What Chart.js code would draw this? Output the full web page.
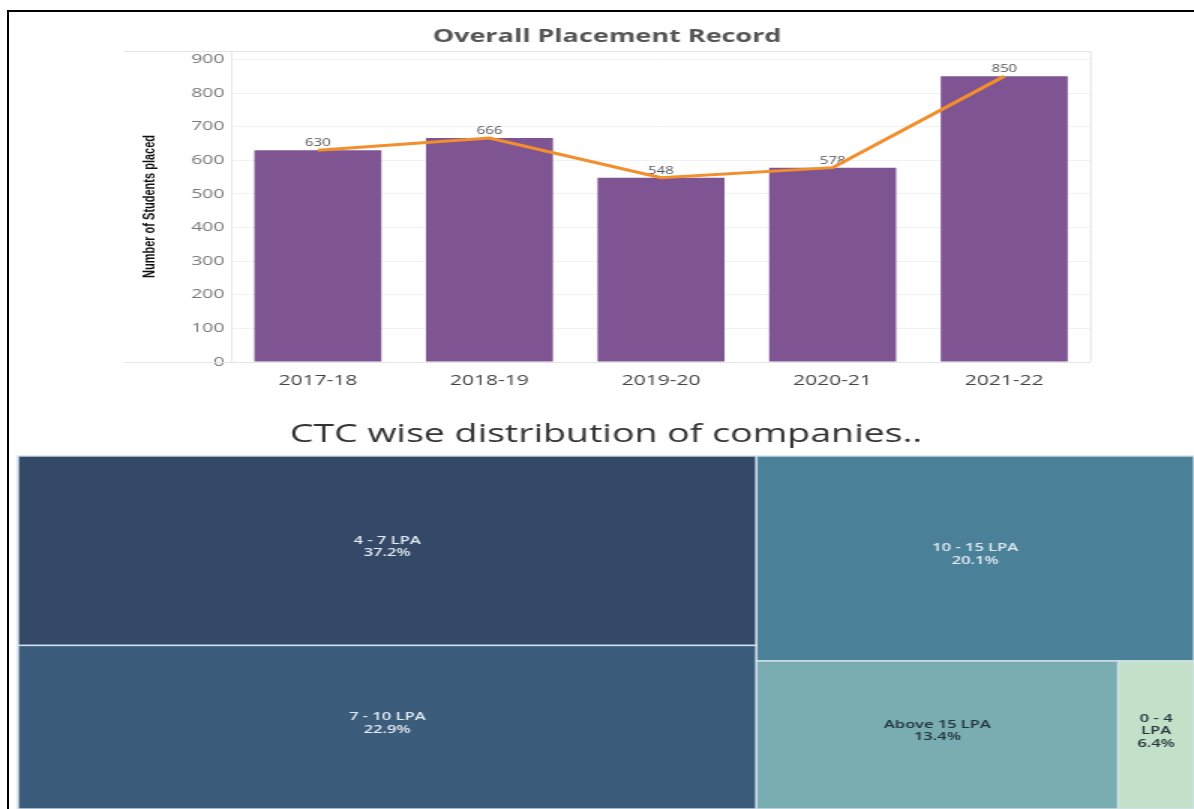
<!DOCTYPE html>
<html>
<head>
<meta charset="utf-8">
<script src="https://cdn.jsdelivr.net/npm/chart.js@4.4.1/dist/chart.umd.min.js"></script>
<style>
  body { margin: 0; background: #fff; }
  /* the source picture is stretched sideways, so both charts are drawn narrow and widened */
  .wrap { position: absolute; left: 0; width: 796px; transform: scaleX(1.5); transform-origin: 0 0; }
  #frame { position: absolute; left: 7px; top: 10px; width: 1300px; height: 900px;
           border-top: 2px solid #000; border-left: 2px solid #000; }
</style>
</head>
<body>
<div class="wrap" style="top:0;height:390px"><canvas id="placement" width="796" height="390"></canvas></div>
<div class="wrap" style="top:390px;height:419px"><canvas id="ctc" width="796" height="419"></canvas></div>
<div id="frame"></div>
<script>
// top chart
const years = ['2017-18', '2018-19', '2019-20', '2020-21', '2021-22'];
const studentsPlaced = [630, 666, 548, 578, 850];
const yTicks = [0, 100, 200, 300, 400, 500, 600, 700, 800, 900];

// treemap
const ctcBands = ['4 - 7 LPA', '7 - 10 LPA', '10 - 15 LPA', 'Above 15 LPA', '0 - 4 LPA'];
const ctcShare = [37.2, 22.9, 20.1, 13.4, 6.4];
const cellSize = [33.7, 29.1, 21.6, 12.9, 2.7];   // box areas as they appear in the picture
const cellGroups = [[0, 1], [2, [3, 4]]];

const bandColors = ['#344968', '#3b5c7b', '#4a8199', '#79adb1', '#c3e0c9'];
const labelColors = ['#e4eaf1', '#e4eaf1', '#e4eaf1', '#22343a', '#22343a'];

// value labels go between the bars and the line
const valueLabels = {
  id: 'valueLabels',
  afterDatasetDraw(chart, args) {
    if (args.index !== 1) return;
    const ctx = chart.ctx;
    const pts = chart.getDatasetMeta(0).data;
    ctx.save();
    ctx.font = '10px "Open Sans", sans-serif';
    ctx.fillStyle = '#555';
    ctx.textAlign = 'center';
    ctx.textBaseline = 'middle';
    pts.forEach((p, i) => ctx.fillText(studentsPlaced[i], p.x, p.y - 7));
    ctx.restore();
  }
};

// tableau-like pane border
const paneBorder = {
  id: 'paneBorder',
  beforeDatasetsDraw(chart) {
    const { ctx, chartArea: a } = chart;
    ctx.save();
    ctx.strokeStyle = '#e4e4e4';
    ctx.lineWidth = 1;
    ctx.beginPath();
    ctx.moveTo(a.left - 72, a.top + 0.5);
    ctx.lineTo(a.right + 0.5, a.top + 0.5);
    ctx.lineTo(a.right + 0.5, a.bottom);
    ctx.moveTo(a.left - 72, a.bottom + 0.5);
    ctx.lineTo(a.left, a.bottom + 0.5);
    ctx.stroke();
    ctx.restore();
  }
};

new Chart(document.getElementById('placement'), {
  data: {
    labels: years,
    datasets: [
      {
        type: 'line',
        data: studentsPlaced,
        borderColor: '#f28e2b',
        borderWidth: 3,
        pointRadius: 0,
        tension: 0,
        order: 0
      },
      {
        type: 'bar',
        data: studentsPlaced,
        backgroundColor: '#7e5592',
        barPercentage: 0.74,
        categoryPercentage: 1,
        order: 1
      }
    ]
  },
  options: {
    responsive: false,
    animation: false,
    layout: { padding: { left: 82.7, right: 69.3, top: 0, bottom: 0 } },
    plugins: {
      legend: { display: false },
      tooltip: { enabled: false },
      title: {
        display: true,
        text: 'Overall Placement Record',
        color: '#555',
        font: { family: '"Open Sans", sans-serif', size: 18, weight: 'bold' },
        padding: { top: 26.2, bottom: 3.2 }
      }
    },
    scales: {
      x: {
        grid: { display: false },
        border: { color: '#e4e4e4' },
        ticks: { color: '#444', padding: 3, font: { family: '"Open Sans", sans-serif', size: 14 } },
        afterFit(s) { s.height = 28; }
      },
      y: {
        min: 0,
        max: 925,
        grid: { color: '#f1f1f1', drawTicks: false },
        border: { color: '#e4e4e4' },
        ticks: { color: '#777', padding: 5, font: { family: '"Open Sans", sans-serif', size: 13 } },
        afterBuildTicks(s) { s.ticks = yTicks.map(v => ({ value: v })); },
        afterFit(s) { s.width = 72; },
        title: {
          display: true,
          text: 'Number of Students placed',
          color: '#111',
          padding: { top: 10.5, bottom: 0 },
          font: { family: '"Liberation Sans Narrow", "Arial Narrow", sans-serif', size: 11, weight: 'bold' }
        }
      }
    }
  },
  plugins: [paneBorder, valueLabels]
});

// ---- treemap ----
function groupSize(node) {
  return typeof node === 'number' ? cellSize[node] : node.reduce((s, n) => s + groupSize(n), 0);
}

function sliceLayout(node, x0, y0, x1, y1, across, out) {
  if (typeof node === 'number') { out[node] = { x0, y0, x1, y1 }; return; }
  const total = groupSize(node);
  let pos = across ? x0 : y0;
  node.forEach(child => {
    const f = groupSize(child) / total;
    if (across) {
      const w = (x1 - x0) * f;
      sliceLayout(child, pos, y0, pos + w, y1, false, out);
      pos += w;
    } else {
      const h = (y1 - y0) * f;
      sliceLayout(child, x0, pos, x1, pos + h, true, out);
      pos += h;
    }
  });
}

function wrapWords(ctx, text, maxW) {
  const words = text.split(' ');
  const lines = [];
  let line = '';
  words.forEach(w => {
    const t = line ? line + ' ' + w : w;
    if (line && ctx.measureText(t).width > maxW) { lines.push(line); line = w; }
    else line = t;
  });
  lines.push(line);
  return lines;
}

const treemapCells = {
  id: 'treemapCells',
  afterDatasetsDraw(chart) {
    const { ctx } = chart;
    const sx = chart.scales.x, sy = chart.scales.y;
    const boxes = [];
    sliceLayout(cellGroups, 0, 0, 100, 100, true, boxes);
    ctx.save();
    boxes.forEach((b, i) => {
      const l = sx.getPixelForValue(b.x0), r = sx.getPixelForValue(b.x1);
      const t = sy.getPixelForValue(b.y0), btm = sy.getPixelForValue(b.y1);
      ctx.fillStyle = bandColors[i];
      ctx.fillRect(l, t, r - l, btm - t);
      ctx.strokeStyle = '#d3e2ec';
      ctx.lineWidth = 1.4;
      ctx.strokeRect(l, t, r - l, btm - t);

      ctx.font = '600 11px "Open Sans", sans-serif';
      ctx.fillStyle = labelColors[i];
      ctx.textAlign = 'center';
      ctx.textBaseline = 'middle';
      const lines = wrapWords(ctx, ctcBands[i], r - l - 10);
      lines.push(ctcShare[i].toFixed(1) + '%');
      const lh = 12.5;
      const cy = (t + btm) / 2 - 4 - (lines.length - 1) * lh / 2;
      lines.forEach((s, k) => ctx.fillText(s, (l + r) / 2, cy + k * lh));
    });
    ctx.restore();
  }
};

new Chart(document.getElementById('ctc'), {
  type: 'scatter',
  data: { datasets: [{ data: [] }] },
  options: {
    responsive: false,
    animation: false,
    layout: { padding: { left: 12, right: 0, top: 0, bottom: 0 } },
    plugins: {
      legend: { display: false },
      tooltip: { enabled: false },
      title: {
        display: true,
        text: 'CTC wise distribution of companies..',
        color: '#333',
        font: { family: '"Open Sans", sans-serif', size: 25, weight: 'normal' },
        padding: { top: 30, bottom: 6 }
      }
    },
    scales: {
      x: { type: 'linear', min: 0, max: 100, display: false },
      y: { type: 'linear', min: 0, max: 100, reverse: true, display: false }
    }
  },
  plugins: [treemapCells]
});
</script>
</body>
</html>
